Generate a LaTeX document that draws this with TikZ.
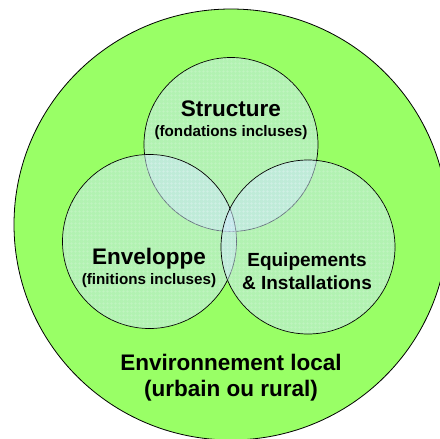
\documentclass[tikz,border=0pt]{standalone}
\usepackage{fontspec}
\setmainfont{Liberation Sans}
\usetikzlibrary{shapes.geometric,patterns.meta}
\definecolor{envgreen}{HTML}{99FF66}
\definecolor{innerfill}{RGB}{204,230,255}
\begin{document}
\begin{tikzpicture}[x=1pt,y=-1pt,
  outerbox/.style={ellipse, draw=black, line width=0.8pt, fill=envgreen,
    minimum width=434pt, minimum height=431pt, inner sep=0pt},
  setc/.style={circle, minimum size=174pt, inner sep=0pt, draw=black,
    line width=0.7pt, fill=innerfill, fill opacity=0.5,
    postaction={pattern={Hatch[distance=4pt,line width=0.4pt]},
      pattern color=white, fill opacity=0.2}},
  bigtxt/.style={font=\fontsize{22.5}{24}\selectfont\bfseries, inner sep=0pt, anchor=base},
  midtxt/.style={font=\fontsize{19}{21}\selectfont\bfseries, inner sep=0pt, anchor=base},
  smalltxt/.style={font=\fontsize{15.2}{17}\selectfont\bfseries, inner sep=0pt, anchor=base}
]
\useasboundingbox (0,0) rectangle (440,439);
\node[outerbox] (env) at (231,224.5) {};
\node[setc] (struct) at (231,144.5) {};
\node[setc] (envel) at (149.5,241.5) {};
\node[setc] (equip) at (308,247) {};
\node[bigtxt] (t1) at (231,116) {Structure};
\node[smalltxt] (t2) at (231,136) {(fondations incluses)};
\node[bigtxt] (t3) at (149,264) {Enveloppe};
\node[smalltxt] (t4) at (149,284) {(finitions incluses)};
\node[midtxt] (t5) at (307,266) {Equipements};
\node[midtxt] (t6) at (307,289) {\& Installations};
\node[bigtxt] (t7) at (231,370) {Environnement local};
\node[bigtxt] (t8) at (231,396.5) {(urbain ou rural)};
\end{tikzpicture}
\end{document}
